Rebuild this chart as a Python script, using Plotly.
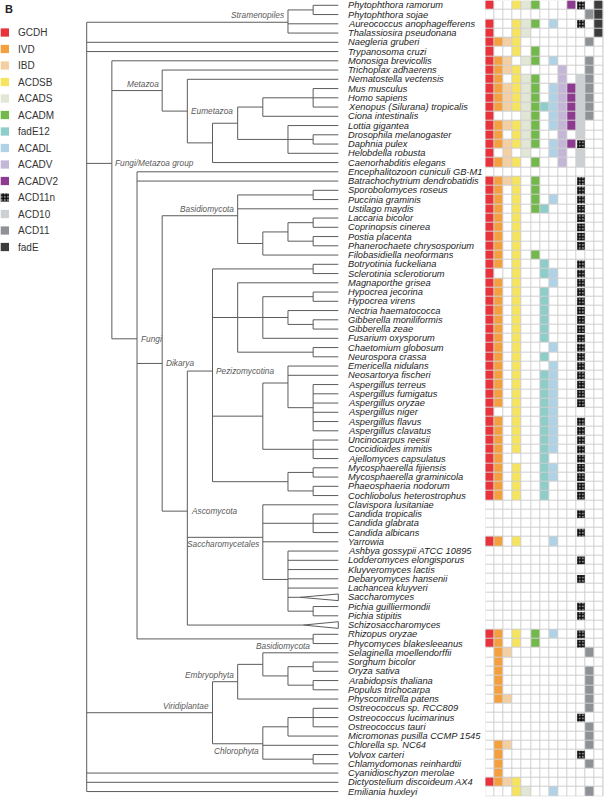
import plotly.graph_objects as go

# ---------------- data ----------------
species = [
    "Phytophthora ramorum", "Phytophthora sojae", "Aureococcus anophagefferens", "Thalassiosira pseudonana",
    "Naegleria gruberi", "Trypanosoma cruzi", "Monosiga brevicollis", "Trichoplax adhaerens",
    "Nematostella vectensis", "Mus musculus", "Homo sapiens", "Xenopus (Silurana) tropicalis",
    "Ciona intestinalis", "Lottia gigantea", "Drosophila melanogaster", "Daphnia pulex",
    "Helobdella robusta", "Caenorhabditis elegans", "Encephalitozoon cuniculi GB-M1",
    "Batrachochytrium dendrobatidis", "Sporobolomyces roseus", "Puccinia graminis", "Ustilago maydis",
    "Laccaria bicolor", "Coprinopsis cinerea", "Postia placenta", "Phanerochaete chrysosporium",
    "Filobasidiella neoformans", "Botryotinia fuckeliana", "Sclerotinia sclerotiorum", "Magnaporthe grisea",
    "Hypocrea jecorina", "Hypocrea virens", "Nectria haematococca", "Gibberella moniliformis",
    "Gibberella zeae", "Fusarium oxysporum", "Chaetomium globosum", "Neurospora crassa",
    "Emericella nidulans", "Neosartorya fischeri", "Aspergillus terreus", "Aspergillus fumigatus",
    "Aspergillus oryzae", "Aspergillus niger", "Aspergillus flavus", "Aspergillus clavatus",
    "Uncinocarpus reesii", "Coccidioides immitis", "Ajellomyces capsulatus", "Mycosphaerella fijiensis",
    "Mycosphaerella graminicola", "Phaeosphaeria nodorum", "Cochliobolus heterostrophus",
    "Clavispora lusitaniae", "Candida tropicalis", "Candida glabrata", "Candida albicans", "Yarrowia",
    "Ashbya gossypii ATCC 10895", "Lodderomyces elongisporus", "Kluyveromyces lactis",
    "Debaryomyces hansenii", "Lachancea kluyveri", "Saccharomyces", "Pichia guilliermondii",
    "Pichia stipitis", "Schizosaccharomyces", "Rhizopus oryzae", "Phycomyces blakesleeanus",
    "Selaginella moellendorffii", "Sorghum bicolor", "Oryza sativa", "Arabidopsis thaliana",
    "Populus trichocarpa", "Physcomitrella patens", "Ostreococcus sp. RCC809", "Ostreococcus lucimarinus",
    "Ostreococcus tauri", "Micromonas pusilla CCMP 1545", "Chlorella sp. NC64", "Volvox carteri",
    "Chlamydomonas reinhardtii", "Cyanidioschyzon merolae", "Dictyostelium discoideum AX4",
    "Emiliania huxleyi",
]

# matrix columns: GCDH IVD IBD ACDSB ACADS ACADM fadE12 ACADL ACADV ACADV2 ACD10/ACD11n ACD11 fadE
# 'x' = present, 'n' = ACD11n (column 10), '.' = absent
profile = [
    "x..xxx...xn.x", "...........xx", "x..xxx.x..n.x", "x..xx.......x",
    "xxxx.......x.", "x..x.x.......", "xxx.xx.x...x.", "xxxx....x..x.",
    "xx.xxx..x.xx.", "xxxxxx.xxxxx.", "xxxxxx.xxxxx.", "xxxxxxxxxxxx.",
    "x...xx.xxxxx.", "xxxxxx.xxxx..", "xx.xxx..x.x..", "xxxxxx.xxxn..",
    "x.x.x..xx.x..", "xxxx.x..x.x..", ".............",
    "xxxx.x....n..", "xx.x.x....n..", "xx.x.x.x..n..", "xx.x.xx...n..",
    "xx.x......n..", "xx.x......n..", "xx.x......n..", "xx.x......n..",
    "xx.x.x.......", "xx.x..x...n..", "x..x..xx..n..", "xx.x...x..n..",
    "xx.x..x...n..", "xx.x..x...n..", "xx.x..x...n..", "xx.x..x...n..",
    "xx.x..x...n..", "xx.x..x...n..", "xx.x...x..n..", "xx.x..x...n..",
    "xx.x...x..n..", "xx.x..xx..n..", "xx.x..xx..n..", "xx.x..xx..n..",
    "xx.x..xx..n..", "x..x..xx.....", "xx.x..xx..n..", "xx.x..xx..n..",
    "xx.x..xx..n..", "xx.x..xx..n..", "xx....x...n..", "xx.x..xx..n..",
    "xx.x..xx..n..", "xx.x..x...n..", "xx.x..x...n..",
    ".............", "..........n..", ".............", "..........n..", "xx.x...x.....",
    ".............", "..........n..", ".............",
    "..........n..", ".............", ".............", "..........n..",
    "..........n..", ".............", "xx.x.x.x..n..", "xx.x.x....n..",
    ".xx........x.", ".x...........", ".x.........x.", ".x.........x.",
    ".x.........x.", ".xx........x.", "...........x.", "..........n..",
    "...........x.", "...........x.", ".xx........x.", ".x........n..",
    ".x.........x.", ".x...........", "xxxx.........",
    "...xx..x...x.",
]

genes = ["GCDH", "IVD", "IBD", "ACDSB", "ACADS", "ACADM", "fadE12", "ACADL",
         "ACADV", "ACADV2", "ACD11n", "ACD10", "ACD11", "fadE"]
gene_colors = ["#e8333c", "#f5a03f", "#f4cfa2", "#f6e35e", "#e1e6d5", "#73b84a", "#8fcdca",
               "#b0d2e7", "#c4b6d7", "#8d3a90", "#111111", "#cdd0d3", "#8e9195", "#3c3c3c"]
# gene shown by a present ('x') cell in each matrix column
column_gene = [0, 1, 2, 3, 4, 5, 6, 7, 8, 9, 11, 12, 13]

# cladogram: (depth level, children, clade label, label placement); tips are species names
tree = (0, [
    (8, [(9, ["Phytophthora ramorum", "Phytophthora sojae"]), "Aureococcus anophagefferens",
         "Thalassiosira pseudonana"], "Stramenopiles", "AL"),
    "Naegleria gruberi",
    "Trypanosoma cruzi",
    (1, [
        "Monosiga brevicollis",
        (3, ["Trichoplax adhaerens",
             (4, ["Nematostella vectensis",
                  (5, [(6, [(7, [(9, ["Mus musculus", "Homo sapiens", "Xenopus (Silurana) tropicalis"]),
                                 "Ciona intestinalis"]),
                            (8, ["Lottia gigantea", (9, ["Drosophila melanogaster", "Daphnia pulex"]),
                                 "Helobdella robusta"])]),
                       "Caenorhabditis elegans"])], "Eumetazoa", "R")], "Metazoa", "AL"),
        (2, ["Encephalitozoon cuniculi GB-M1", "Batrachochytrium dendrobatidis",
             (3, [(6, [(9, ["Sporobolomyces roseus", "Puccinia graminis"]), "Ustilago maydis",
                       (7, [(8, [(9, ["Laccaria bicolor", "Coprinopsis cinerea"]),
                                 (9, ["Postia placenta", "Phanerochaete chrysosporium"])]),
                            "Filobasidiella neoformans"])], "Basidiomycota", "AL"),
                  (4, [(5, [(9, ["Botryotinia fuckeliana", "Sclerotinia sclerotiorum"]),
                            (6, ["Magnaporthe grisea",
                                 (7, [(9, ["Hypocrea jecorina", "Hypocrea virens"]),
                                      (8, ["Nectria haematococca",
                                           (9, ["Gibberella moniliformis", "Gibberella zeae"])]),
                                      "Fusarium oxysporum"]),
                                 (9, ["Chaetomium globosum", "Neurospora crassa"])]),
                            (7, [(8, ["Emericella nidulans", "Neosartorya fischeri",
                                      (9, ["Aspergillus terreus", "Aspergillus fumigatus", "Aspergillus oryzae",
                                           "Aspergillus niger", "Aspergillus flavus", "Aspergillus clavatus"])]),
                                 (9, ["Uncinocarpus reesii", "Coccidioides immitis", "Ajellomyces capsulatus"])]),
                            (8, [(9, ["Mycosphaerella fijiensis", "Mycosphaerella graminicola"]),
                                 (9, ["Phaeosphaeria nodorum", "Cochliobolus heterostrophus"])])],
                       "Pezizomycotina", "R"),
                       (7, ["Clavispora lusitaniae",
                            (9, ["Candida tropicalis", "Candida glabrata", "Candida albicans"]),
                            "Yarrowia",
                            (8, ["Ashbya gossypii ATCC 10895", "Lodderomyces elongisporus", "Kluyveromyces lactis",
                                 "Debaryomyces hansenii", "Lachancea kluyveri", "Saccharomyces",
                                 (9, ["Pichia guilliermondii", "Pichia stipitis"])])],
                        "Saccharomycetales", "BL"),
                       "Schizosaccharomyces"], "Ascomycota", "R")], "Dikarya", "R"),
             (9, ["Rhizopus oryzae", "Phycomyces blakesleeanus"], "Basidiomycota", "BL")], "Fungi", "R")],
        "Fungi/Metazoa group", "R"),
    (5, [(6, [(7, ["Selaginella moellendorffii",
                   (8, [(9, ["Sorghum bicolor", "Oryza sativa"]),
                        (9, ["Arabidopsis thaliana", "Populus trichocarpa"])])]),
              "Physcomitrella patens"], "Embryophyta", "AL"),
         (7, [(8, [(9, ["Ostreococcus sp. RCC809", "Ostreococcus lucimarinus", "Ostreococcus tauri"]),
                   "Micromonas pusilla CCMP 1545"]),
              "Chlorella sp. NC64",
              (9, ["Volvox carteri", "Chlamydomonas reinhardtii"])], "Chlorophyta", "BL")],
     "Viridiplantae", "AL"),
    "Cyanidioschyzon merolae",
    "Dictyostelium discoideum AX4",
    "Emiliania huxleyi",
])

# collapsed clades drawn as triangles: apex depth level
collapsed = {"Saccharomyces": 8.48, "Schizosaccharomyces": 8.61}
TIP_LEVEL = 10

assert len(species) == 86 and len(profile) == 86

# ---------------- build tree geometry ----------------
row_of = {s: i for i, s in enumerate(species)}
seg_x, seg_y = [], []
clade_labels = []


def add_seg(x0, y0, x1, y1):
    seg_x.extend([x0, x1, None])
    seg_y.extend([y0, y1, None])


def walk(node, parent_level):
    if isinstance(node, str):
        y = row_of[node]
        if node in collapsed:
            apex = collapsed[node]
            add_seg(parent_level, y, apex, y)
            seg_x.extend([apex, TIP_LEVEL, TIP_LEVEL, apex, None])
            seg_y.extend([y, y - 0.36, y + 0.36, y, None])
        else:
            add_seg(parent_level, y, TIP_LEVEL, y)
        return y
    level, children = node[0], node[1]
    ys = [walk(c, level) for c in children]
    y = sum(ys) / len(ys)
    add_seg(level, min(ys), level, max(ys))
    if parent_level is not None:
        add_seg(parent_level, y, level, y)
    if len(node) > 2:
        clade_labels.append((node[2], node[3], level, y))
    return y


walk(tree, None)

# ---------------- figure ----------------
W, H = 605, 798
ROW0, ROWSTEP = 5.3, 9.25
ROOT_PX, LEVEL_PX = 86.7, 25.16
y_range = [(H - ROW0) / ROWSTEP, -ROW0 / ROWSTEP]
x_range = [-ROOT_PX / LEVEL_PX, (W - ROOT_PX) / LEVEL_PX]
FONT = "Liberation Sans, Arial, Helvetica, sans-serif"

fig = go.Figure()

fig.add_trace(go.Scatter(x=seg_x, y=seg_y, mode="lines", xaxis="x", yaxis="y",
                         line=dict(color="#5c5c5c", width=1), hoverinfo="skip", showlegend=False))

# matrix as heatmap
z = []
check_x, check_y = [], []
for r, codes in enumerate(profile):
    row = []
    for c, ch in enumerate(codes):
        if ch == "x":
            row.append(column_gene[c] + 1)
        else:
            row.append(0)
            if ch == "n":
                check_x.append(c)
                check_y.append(r)
    z.append(row)

palette = ["#ffffff"] + gene_colors
n = len(palette)
cscale = []
for i, col in enumerate(palette):
    cscale.append([i / n, col])
    cscale.append([(i + 1) / n, col])

fig.add_trace(go.Heatmap(z=z, x=list(range(13)), y=list(range(len(species))), xaxis="x2", yaxis="y",
                         colorscale=cscale, zmin=-0.5, zmax=n - 0.5, showscale=False,
                         xgap=1, ygap=1, hoverinfo="skip"))

CHECK = dict(shape=".", fgcolor="#ffffff", bgcolor="#111111", size=3.2, solidity=0.3)
fig.add_trace(go.Bar(x=check_x, y=[0.84] * len(check_x), base=[v - 0.42 for v in check_y],
                     width=0.84, xaxis="x2", yaxis="y",
                     marker=dict(color="#111111", line=dict(width=0), pattern=CHECK),
                     hoverinfo="skip", showlegend=False))

# legend
leg_idx = list(range(len(genes)))
fig.add_trace(go.Bar(x=[0] * len(genes), y=[0.5] * len(genes), base=[k - 0.25 for k in leg_idx],
                     width=0.91, xaxis="x3", yaxis="y3",
                     marker=dict(color=gene_colors, line=dict(width=0),
                                 pattern=dict(shape=[("." if g == "ACD11n" else "") for g in genes],
                                              fgcolor="#ffffff", size=3.2, solidity=0.3)),
                     hoverinfo="skip", showlegend=False))

annotations = []
for k, g in enumerate(genes):
    annotations.append(dict(x=0, y=k, xref="x3", yref="y3", text=g, showarrow=False,
                            xanchor="left", yanchor="middle", xshift=11.5,
                            font=dict(family=FONT, size=10, color="#333333")))

for r, s in enumerate(species):
    annotations.append(dict(x=TIP_LEVEL, y=r, xref="x", yref="y", text="<i>%s</i>" % s, showarrow=False,
                            xanchor="left", yanchor="middle", xshift=7.5,
                            font=dict(family=FONT, size=9.3, color="#1e1e1e")))

for name, place, level, y in clade_labels:
    a = dict(x=level, y=y, xref="x", yref="y", text="<i>%s</i>" % name, showarrow=False,
             yanchor="middle", font=dict(family=FONT, size=8.3, color="#5a5a5a"))
    if place == "R":
        a.update(xanchor="left", xshift=1.5)
    elif place == "AL":
        a.update(xanchor="right", xshift=-1.5, yshift=7)
    else:
        a.update(xanchor="right", xshift=-1.5, yshift=-7)
    annotations.append(a)

annotations.append(dict(x=3 / W, y=1 - 9 / H, xref="paper", yref="paper", text="<b>B</b>", showarrow=False,
                        xanchor="left", yanchor="middle", font=dict(family=FONT, size=11, color="#222222")))

LEG0, LEGSTEP = 32.5, 16.5
fig.update_layout(
    width=W, height=H, margin=dict(l=0, r=0, t=0, b=0),
    paper_bgcolor="white", plot_bgcolor="rgba(0,0,0,0)",
    barmode="overlay", showlegend=False,
    xaxis=dict(domain=[0, 1], range=x_range, visible=False, fixedrange=True),
    yaxis=dict(domain=[0, 1], range=y_range, visible=False, fixedrange=True),
    xaxis2=dict(domain=[485.3 / W, 603.7 / W], range=[-0.5, 12.5], visible=False, anchor="y"),
    xaxis3=dict(domain=[0, 0.2], range=[-0.533, 12.763], visible=False, anchor="y3"),
    yaxis3=dict(domain=[0, 1], range=[(H - LEG0) / LEGSTEP, -LEG0 / LEGSTEP], visible=False, anchor="x3"),
    annotations=annotations,
    shapes=[dict(type="rect", xref="x2", yref="y", x0=-0.5, x1=12.5, y0=-0.5, y1=len(species) - 0.5,
                 fillcolor="#cfcfcf", line=dict(width=0), layer="below")],
)

fig.write_html("out.html", config={"displayModeBar": False},
               post_script="document.body.style.margin='0';document.body.style.overflow='hidden';")
